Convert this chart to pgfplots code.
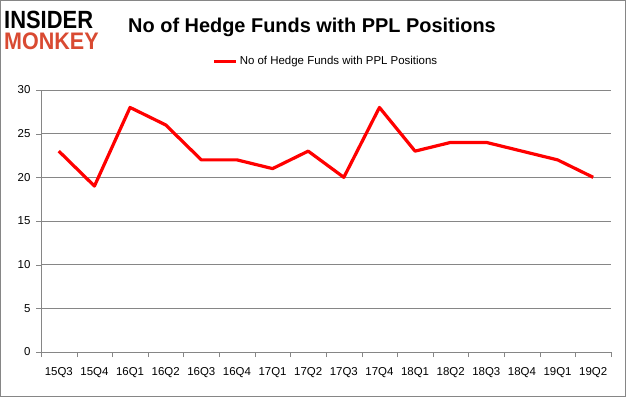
\documentclass[border=0pt]{standalone}
\usepackage{pgfplots}
\pgfplotsset{compat=1.18}
\usepackage{fontspec}
\setmainfont{Liberation Sans}
\definecolor{logored}{HTML}{D94A32}
\definecolor{gridgray}{HTML}{868686}
\begin{document}
\begin{tikzpicture}[x=1bp,y=1bp]
\draw[draw=gridgray, line width=0.8bp, fill=white] (0.4,0.4) rectangle (625.6,396.6);
\node[anchor=base west, inner sep=0, text height=18bp, text depth=0bp, font=\fontsize{25}{25}\selectfont\bfseries, xscale=0.88] at (4,369) {INSIDER};
\node[anchor=base west, inner sep=0, text height=17bp, text depth=0bp, font=\fontsize{24}{24}\selectfont\bfseries, text=logored, xscale=0.9] at (4,348) {MONKEY};
\node[anchor=center, inner sep=0, font=\fontsize{20}{22}\selectfont\bfseries] at (312,370) {No of Hedge Funds with PPL Positions};
\begin{axis}[
  at={(41bp,45bp)}, anchor=south west,
  scale only axis, width=570bp, height=262bp,
  xmin=-0.5, xmax=15.5, ymin=0, ymax=30,
  xtick={0,...,15},
  xticklabels={15Q3,15Q4,16Q1,16Q2,16Q3,16Q4,17Q1,17Q2,17Q3,17Q4,18Q1,18Q2,18Q3,18Q4,19Q1,19Q2},
  major x tick style={draw=none},
  minor xtick={-0.5,0.5,...,15.5},
  minor x tick style={draw=gridgray},
  ytick={0,5,...,30},
  ymajorgrids, grid style={draw=gridgray, line width=0.6bp},
  axis x line*=bottom, axis y line*=left,
  axis line style={draw=gridgray, line width=0.6bp, -},
  tick align=outside, tickwidth=5bp, minor tick length=5bp,
  y tick style={draw=gridgray},
  ticklabel style={font=\fontsize{11.5}{13}\selectfont},
  /pgf/number format/assume math mode=true,
  xticklabel style={yshift=-7bp},
  yticklabel style={xshift=-2bp},
  legend style={at={(0.5,1.11)}, anchor=center, draw=none, fill=none, font=\fontsize{11.5}{13}\selectfont, legend columns=1},
  legend cell align=left,
  legend image code/.code={\draw[#1, line width=3bp] (0bp,0bp) -- (22bp,0bp);},
  clip=false,
]
\addplot[color=red, line width=3.2bp, line join=round] coordinates {
(0,23)(1,19)(2,28)(3,26)(4,22)(5,22)(6,21)(7,23)(8,20)(9,28)(10,23)(11,24)(12,24)(13,23)(14,22)(15,20)
};
\addlegendentry{No of Hedge Funds with PPL Positions}
\end{axis}
\end{tikzpicture}
\end{document}
